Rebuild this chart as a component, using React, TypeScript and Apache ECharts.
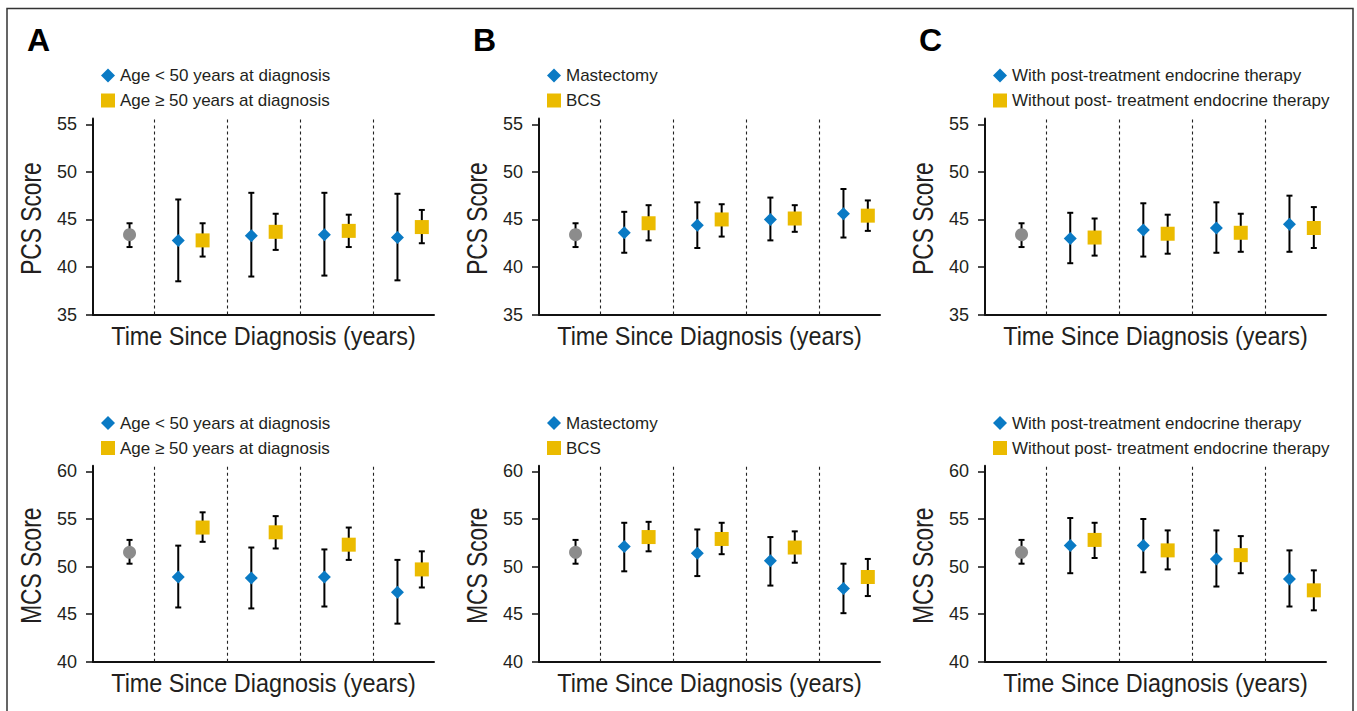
import React, { useEffect, useRef } from "react";
import * as echarts from "echarts";

// ---- labels ----
const panelLetters = ["A", "B", "C"];
const legendLabels = [
  ["Age < 50 years at diagnosis", "Age \u2265 50 years at diagnosis"],
  ["Mastectomy", "BCS"],
  ["With post-treatment endocrine therapy", "Without post- treatment endocrine therapy"],
];
const xTitle = "Time Since Diagnosis (years)";
const rowTitles = ["PCS Score", "MCS Score"];
const pcsTicks = [35, 40, 45, 50, 55];
const mcsTicks = [40, 45, 50, 55, 60];

// ---- overall (baseline) score: [mean, low, high] ----
const overallPCS = [43.4, 42.1, 44.6];
const overallMCS = [51.5, 50.3, 52.8];

// ---- Panel A: age ----  each entry [mean, low, high] for 4 periods
const agePcsYoung = [[42.8, 38.5, 47.1], [43.3, 39.0, 47.8], [43.4, 39.1, 47.8], [43.1, 38.6, 47.7]];
const agePcsOld = [[42.8, 41.1, 44.6], [43.7, 41.8, 45.6], [43.8, 42.1, 45.5], [44.2, 42.5, 46.0]];
const ageMcsYoung = [[48.9, 45.7, 52.2], [48.8, 45.6, 52.0], [48.9, 45.8, 51.8], [47.3, 44.0, 50.7]];
const ageMcsOld = [[54.1, 52.6, 55.7], [53.6, 51.9, 55.3], [52.3, 50.7, 54.1], [49.7, 47.8, 51.6]];

// ---- Panel B: surgery ----
const surgPcsMast = [[43.6, 41.5, 45.8], [44.4, 42.0, 46.8], [45.0, 42.8, 47.3], [45.6, 43.1, 48.2]];
const surgPcsBcs = [[44.6, 42.8, 46.5], [45.0, 43.2, 46.6], [45.1, 43.7, 46.5], [45.4, 43.8, 47.0]];
const surgMcsMast = [[52.1, 49.5, 54.6], [51.4, 49.0, 53.9], [50.6, 48.0, 53.1], [47.7, 45.1, 50.3]];
const surgMcsBcs = [[53.1, 51.6, 54.7], [52.9, 51.3, 54.6], [52.0, 50.4, 53.7], [48.9, 46.9, 50.8]];

// ---- Panel C: endocrine therapy ----
const endoPcsWith = [[43.0, 40.4, 45.7], [43.9, 41.1, 46.7], [44.1, 41.5, 46.8], [44.5, 41.6, 47.5]];
const endoPcsWithout = [[43.1, 41.2, 45.1], [43.5, 41.4, 45.5], [43.6, 41.6, 45.6], [44.1, 42.0, 46.3]];
const endoMcsWith = [[52.2, 49.3, 55.1], [52.2, 49.4, 55.0], [50.8, 47.9, 53.8], [48.7, 45.8, 51.7]];
const endoMcsWithout = [[52.8, 50.9, 54.6], [51.7, 49.7, 53.8], [51.2, 49.3, 53.2], [47.5, 45.4, 49.6]];

const pcsGroups = [[agePcsYoung, agePcsOld], [surgPcsMast, surgPcsBcs], [endoPcsWith, endoPcsWithout]];
const mcsGroups = [[ageMcsYoung, ageMcsOld], [surgMcsMast, surgMcsBcs], [endoMcsWith, endoMcsWithout]];

// ---- styling ----
const FONT = "'Liberation Sans', Arial, Helvetica, sans-serif";
const TEXT = "#231f20";
const BLUE = "#0a7ac4";
const YELLOW = "#ebbb00";
const GREY = "#8c8c8c";

const gridLefts = [93, 539, 985];
const gridWidth = 341;
const gridHeight = 196;
const rowTops = [118.6, 465.7];

function buildOption() {
  const grid: any[] = [];
  const xAxis: any[] = [];
  const yAxis: any[] = [];
  const series: any[] = [];
  const legend: any[] = [];
  const title: any[] = [];
  const graphic: any[] = [
    {
      type: "rect",
      silent: true,
      shape: { x: 7, y: 8.5, width: 1346, height: 720 },
      style: { fill: "none", stroke: "#333", lineWidth: 1.5 },
    },
  ];

  panelLetters.forEach((letter, p) => {
    title.push({
      text: letter,
      left: gridLefts[p] - 66,
      top: 24,
      padding: 0,
      textStyle: { fontSize: 32, fontWeight: "bold", color: "#000", fontFamily: FONT },
    });
    [0, 1].forEach((row) => {
      const idx = p * 2 + row;
      const ticks = row === 0 ? pcsTicks : mcsTicks;
      const groups = row === 0 ? pcsGroups[p] : mcsGroups[p];
      const overall = row === 0 ? overallPCS : overallMCS;
      grid.push({
        left: gridLefts[p],
        top: rowTops[row],
        width: gridWidth,
        height: gridHeight,
        containLabel: false,
        outerBoundsMode: "none",
      });
      xAxis.push({
        gridIndex: idx,
        type: "value",
        min: -1.5,
        max: 12.5,
        axisLine: { show: true, onZero: false, lineStyle: { color: "#111", width: 2 } },
        axisTick: { show: false },
        axisLabel: { show: false },
        splitLine: { show: false },
      });
      yAxis.push({
        gridIndex: idx,
        type: "value",
        min: ticks[0],
        max: ticks[ticks.length - 1] + 0.6,
        axisLine: { show: true, onZero: false, lineStyle: { color: "#111", width: 2 } },
        axisTick: { show: true, length: 7, customValues: ticks, lineStyle: { color: "#111", width: 1.5 } },
        axisLabel: { show: true, customValues: ticks, margin: 16, fontSize: 18, fontFamily: FONT, color: TEXT },
        splitLine: { show: false },
      });
      legend.push({
        orient: "vertical",
        left: gridLefts[p] + 8,
        top: row === 0 ? 67 : 414.5,
        padding: 0,
        itemWidth: 14,
        itemHeight: 14,
        itemGap: 8,
        selectedMode: false,
        data: legendLabels[p],
        itemStyle: { opacity: 1 },
        textStyle: { fontSize: 17, fontFamily: FONT, color: TEXT, lineHeight: 17 },
      });
      // axis titles (condensed look via horizontal scaling)
      graphic.push({
        type: "text",
        silent: true,
        x: gridLefts[p] + gridWidth / 2,
        y: rowTops[row] + gridHeight + 21,
        scaleX: 0.9,
        style: {
          text: xTitle,
          fontSize: 26,
          fontFamily: FONT,
          fill: TEXT,
          align: "center",
          verticalAlign: "middle",
        },
      });
      graphic.push({
        type: "text",
        silent: true,
        x: gridLefts[p] - 62,
        y: rowTops[row] + gridHeight / 2 + 2,
        rotation: Math.PI / 2,
        scaleX: 0.785,
        style: {
          text: rowTitles[row],
          fontSize: 29,
          fontFamily: FONT,
          fill: TEXT,
          align: "center",
          verticalAlign: "middle",
        },
      });

      const bars: number[][] = [[0, overall[1], overall[2]]];
      groups.forEach((g, gi) => {
        g.forEach((d, i) => bars.push([3 * i + 2 + gi, d[1], d[2]]));
      });
      series.push({
        type: "custom",
        xAxisIndex: idx,
        yAxisIndex: idx,
        silent: true,
        z: 2,
        encode: { x: 0, y: [1, 2] },
        data: bars,
        renderItem: (params: any, api: any) => {
          const x = api.value(0);
          const top = api.coord([x, api.value(2)]);
          const bot = api.coord([x, api.value(1)]);
          const cap = 3;
          const st = { stroke: "#000", lineWidth: 2 };
          return {
            type: "group",
            children: [
              { type: "line", shape: { x1: top[0], y1: top[1], x2: bot[0], y2: bot[1] }, style: st },
              { type: "line", shape: { x1: top[0] - cap, y1: top[1], x2: top[0] + cap, y2: top[1] }, style: st },
              { type: "line", shape: { x1: bot[0] - cap, y1: bot[1], x2: bot[0] + cap, y2: bot[1] }, style: st },
            ],
          };
        },
      });
      series.push({
        type: "scatter",
        name: "Overall",
        xAxisIndex: idx,
        yAxisIndex: idx,
        symbol: "circle",
        symbolSize: 13,
        z: 3,
        itemStyle: { color: GREY, opacity: 1 },
        data: [[0, overall[0]]],
        markLine: {
          silent: true,
          symbol: ["none", "none"],
          label: { show: false },
          lineStyle: { type: [3, 3], color: "#222", width: 1.1 },
          emphasis: { disabled: true },
          data: [1, 4, 7, 10].map((v) => ({ xAxis: v })),
        },
      });
      groups.forEach((g, gi) => {
        series.push({
          type: "scatter",
          name: legendLabels[p][gi],
          xAxisIndex: idx,
          yAxisIndex: idx,
          symbol: gi === 0 ? "diamond" : "rect",
          symbolSize: gi === 0 ? 13 : 14,
          z: 3,
          itemStyle: { color: gi === 0 ? BLUE : YELLOW, opacity: 1 },
          data: g.map((d, i) => [3 * i + 2 + gi, d[0]]),
        });
      });
    });
  });

  return {
    animation: false,
    backgroundColor: "#fff",
    title,
    legend,
    grid,
    xAxis,
    yAxis,
    series,
    graphic,
  };
}

export default function App() {
  const ref = useRef<HTMLDivElement>(null);
  useEffect(() => {
    if (!ref.current) return;
    const chart = echarts.init(ref.current, null, { renderer: "svg" });
    chart.setOption(buildOption() as any);
    return () => chart.dispose();
  }, []);
  return (
    <div
      ref={ref}
      style={{ position: "fixed", left: 0, top: 0, width: 1357, height: 711, background: "#fff" }}
    />
  );
}
